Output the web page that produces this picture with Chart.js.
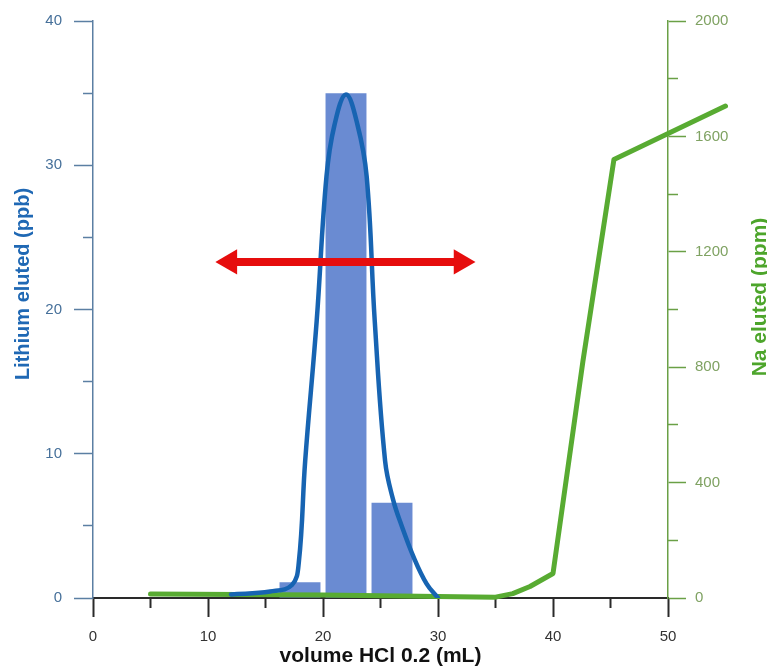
<!DOCTYPE html>
<html>
<head>
<meta charset="utf-8">
<title>Lithium / Na elution</title>
<script src="https://cdn.jsdelivr.net/npm/chart.js@4.4.0/dist/chart.umd.min.js"></script>
<style>
  html, body { margin: 0; padding: 0; background: #fff; }
  #wrap { position: relative; width: 767px; height: 666px; }
</style>
</head>
<body>
<div id="wrap"><canvas id="elutionChart"></canvas></div>
<script>
// ================= DATA =================
// Li collected per 4 mL fraction (bars)
const binCentres = [18, 22, 26];
const lithiumBins = [1.1, 35.0, 6.6];

// Li elution curve (ppb)
const liX = [12, 15.4, 17.3, 17.9, 18.45, 19.45, 20.3, 21.0, 22.0, 23.0, 23.8, 24.5, 25.4, 26.1, 26.8, 27.9, 29.0, 30.0];
const liY = [0.25, 0.45, 0.9, 2.5, 9.5, 19.2, 29.2, 32.8, 34.9, 32.8, 29.2, 19.2, 9.5, 6.8, 5.1, 2.8, 1.0, 0];

// Na elution curve (ppm)
const naX = [5, 20, 30, 35, 36.5, 38, 40, 42.6, 45.3, 55];
const naY = [14, 10, 5, 3, 15, 40, 85, 820, 1520, 1705];

// red double arrow (Li collection window)
const arrowX = [11.9, 32.0];
const arrowY = [23.3, 23.3];

// axis ticks
const xMajorTicks = [0, 10, 20, 30, 40, 50];
const xMinorTicks = [5, 15, 25, 35, 45];
const liMajorTicks = [0, 10, 20, 30, 40];
const liMinorTicks = [5, 15, 25, 35];
const naMajorTicks = [0, 400, 800, 1200, 1600, 2000];
const naMinorTicks = [200, 600, 1000, 1400, 1800];

// ================= STYLE =================
const FONT = '"Liberation Sans", Arial, sans-serif';
const colors = {
  bar: '#6a8bd2',
  li: '#1764b2',
  na: '#58ab32',
  arrow: '#e60d0d',
  liAxis: '#5b7fa3',
  liLabel: '#46709a',
  liTitle: '#1f68b4',
  naAxis: '#6aa046',
  naLabel: '#7fa262',
  naTitle: '#4da52b',
  xAxis: '#2a2a2a',
  xLabel: '#333333'
};

const pts = (xs, ys) => xs.map((x, i) => ({ x: x, y: ys[i] }));
const setTicks = list => scale => { scale.ticks = list.map(v => ({ value: v })); };
const plain = v => String(v);

Chart.defaults.font.family = FONT;

// y-axis titles (Na title reads bottom-to-top like the Li one)
const axisTitles = {
  id: 'axisTitles',
  afterDraw(chart) {
    const { ctx } = chart;
    ctx.save();
    ctx.textAlign = 'center';
    ctx.textBaseline = 'middle';

    ctx.font = 'bold 20px ' + FONT;
    ctx.fillStyle = colors.liTitle;
    ctx.save();
    ctx.translate(23, 284);
    ctx.rotate(-Math.PI / 2);
    ctx.fillText('Lithium eluted (ppb)', 0, 0);
    ctx.restore();

    ctx.font = 'bold 21px ' + FONT;
    ctx.fillStyle = colors.naTitle;
    ctx.translate(760, 297);
    ctx.rotate(-Math.PI / 2);
    ctx.fillText('Na eluted (ppm)', 0, 0);
    ctx.restore();
  }
};

const minorAxis = (pos, list, min, max, color, width) => ({
  type: 'linear',
  position: pos,
  min: min,
  max: max,
  offset: false,
  weight: 0,
  afterBuildTicks: setTicks(list),
  afterFit: s => { if (s.isHorizontal()) s.height = 0; else s.width = 0; },
  grid: { offset: false, drawOnChartArea: false, tickLength: 10, tickColor: color, tickWidth: width },
  border: { display: false },
  ticks: { display: false }
});

const ctx = document.getElementById('elutionChart').getContext('2d');
new Chart(ctx, {
  type: 'line',
  data: {
    datasets: [
      {
        type: 'line',
        label: 'arrow',
        data: pts(arrowX, arrowY),
        xAxisID: 'x',
        yAxisID: 'y',
        borderColor: colors.arrow,
        borderWidth: 8,
        pointStyle: 'triangle',
        pointRadius: 14.5,
        pointRotation: [270, 90],
        pointBackgroundColor: colors.arrow,
        pointBorderColor: colors.arrow,
        pointBorderWidth: 0,
        order: 0
      },
      {
        type: 'line',
        label: 'Li',
        data: pts(liX, liY),
        xAxisID: 'x',
        yAxisID: 'y',
        borderColor: colors.li,
        borderWidth: 4.5,
        pointRadius: 0,
        tension: 0.4,
        borderCapStyle: 'round',
        fill: false,
        order: 1
      },
      {
        type: 'line',
        label: 'Na',
        data: pts(naX, naY),
        xAxisID: 'x',
        yAxisID: 'y2',
        borderColor: colors.na,
        borderWidth: 5,
        pointRadius: 0,
        tension: 0,
        borderJoinStyle: 'round',
        borderCapStyle: 'round',
        clip: false,
        fill: false,
        order: 2
      },
      {
        type: 'bar',
        label: 'Li fractions',
        data: pts(binCentres, lithiumBins),
        xAxisID: 'x',
        yAxisID: 'y',
        backgroundColor: colors.bar,
        borderWidth: 0,
        categoryPercentage: 1,
        barPercentage: 0.89,
        order: 3
      }
    ]
  },
  options: {
    responsive: true,
    maintainAspectRatio: false,
    animation: false,
    layout: { padding: { top: 20, left: 0, right: 0, bottom: 0 } },
    plugins: {
      legend: { display: false },
      tooltip: { enabled: false }
    },
    scales: {
      x: {
        type: 'linear',
        position: 'bottom',
        min: 0,
        max: 50,
        offset: false,
        weight: 1,
        afterBuildTicks: setTicks(xMajorTicks),
        afterFit: s => { s.height = 68; },
        grid: { offset: false, drawOnChartArea: false, tickLength: 19, tickColor: colors.xAxis, tickWidth: 2 },
        border: { color: colors.xAxis, width: 2 },
        ticks: { color: colors.xLabel, font: { size: 15 }, padding: 11, autoSkip: false, maxRotation: 0, callback: plain },
        title: {
          display: true,
          text: 'volume HCl 0.2 (mL)',
          color: '#111111',
          font: { size: 21, weight: 'bold' },
          padding: { top: 0, bottom: -3 }
        }
      },
      xMinor: minorAxis('bottom', xMinorTicks, 0, 50, colors.xAxis, 2),
      y: {
        type: 'linear',
        position: 'left',
        min: 0,
        max: 40,
        weight: 1,
        afterBuildTicks: setTicks(liMajorTicks),
        afterFit: s => { s.width = 93; },
        grid: { drawOnChartArea: false, tickLength: 19, tickColor: colors.liAxis, tickWidth: 1.5 },
        border: { color: colors.liAxis, width: 1.5 },
        ticks: { color: colors.liLabel, font: { size: 15 }, padding: 12, callback: plain }
      },
      yMinor: minorAxis('left', liMinorTicks, 0, 40, colors.liAxis, 1.5),
      y2: {
        type: 'linear',
        position: 'right',
        min: 0,
        max: 2000,
        weight: 1,
        afterBuildTicks: setTicks(naMajorTicks),
        afterFit: s => { s.width = 99; },
        grid: { drawOnChartArea: false, tickLength: 18, tickColor: colors.naAxis, tickWidth: 1.5 },
        border: { color: colors.naAxis, width: 1.5 },
        ticks: { color: colors.naLabel, font: { size: 15 }, padding: 9, callback: plain }
      },
      y2Minor: minorAxis('right', naMinorTicks, 0, 2000, colors.naAxis, 1.5)
    }
  },
  plugins: [axisTitles]
});
</script>
</body>
</html>
